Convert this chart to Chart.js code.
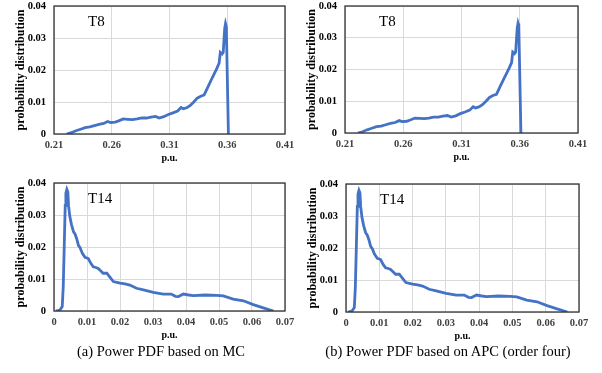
<!DOCTYPE html>
<html>
<head>
<meta charset="utf-8">
<script src="https://cdn.jsdelivr.net/npm/chart.js@4.4.0/dist/chart.umd.min.js"></script>
<style>
  body { margin: 0; background: #fff; }
  #wrap { position: relative; width: 602px; height: 373px; overflow: hidden; }
  #wrap canvas { position: absolute; left: 0; top: 0; }
  .cap { position: absolute; top: 343px; font: 14.5px "Liberation Serif", "Times New Roman", serif; color: #000; white-space: nowrap; transform: translateX(-50%); }
</style>
</head>
<body>
<div id="wrap">
  <canvas id="tl" width="602" height="373"></canvas>
  <canvas id="tr" width="602" height="373"></canvas>
  <canvas id="bl" width="602" height="373"></canvas>
  <canvas id="br" width="602" height="373"></canvas>
  <div class="cap" style="left:161px">(a) Power PDF based on MC</div>
  <div class="cap" style="left:448px">(b) Power PDF based on APC (order four)</div>
</div>
<script>
// T8 power pdf (p.u. / probability)
const t8X = [0.221, 0.225, 0.229, 0.233, 0.237, 0.241, 0.245, 0.249, 0.253, 0.2565, 0.259, 0.263,
  0.266, 0.270, 0.274, 0.278, 0.282, 0.286, 0.290, 0.294, 0.298, 0.301, 0.305, 0.309, 0.313,
  0.317, 0.320, 0.322, 0.325, 0.328, 0.331, 0.334, 0.337, 0.340, 0.343, 0.346, 0.349, 0.351,
  0.353, 0.354, 0.3555, 0.3565, 0.3578, 0.3585, 0.3592, 0.361];
const t8Y = [0, 0.0004, 0.0010, 0.0015, 0.0020, 0.0022, 0.0026, 0.0030, 0.0033, 0.0039, 0.0036, 0.0037,
  0.0041, 0.0047, 0.0046, 0.0045, 0.0047, 0.0050, 0.0050, 0.0053, 0.0055, 0.0050, 0.0054, 0.0061, 0.0066,
  0.0072, 0.0083, 0.0079, 0.0082, 0.0089, 0.0100, 0.0112, 0.0118, 0.0122, 0.0145, 0.0168, 0.0190, 0.0205,
  0.0222, 0.0255, 0.0250, 0.0255, 0.0330, 0.0345, 0.0335, 0];

// T14 power pdf
const t14X = [0.0006, 0.0018, 0.0025, 0.0028, 0.0031, 0.0034, 0.0036, 0.0039, 0.0042, 0.0044, 0.0048,
  0.0053, 0.0059, 0.0064, 0.0069, 0.0074, 0.0079, 0.0086, 0.0094, 0.0104, 0.0112, 0.0119, 0.0127,
  0.0134, 0.0142, 0.0149, 0.016, 0.017, 0.018, 0.020, 0.0215, 0.023, 0.025, 0.0271, 0.0301, 0.0331,
  0.0355, 0.0368, 0.0377, 0.0392, 0.0408, 0.0422, 0.0458, 0.0493, 0.0513, 0.0543, 0.0574, 0.0604,
  0.0634, 0.0665];
const t14Y = [0, 0.0003, 0.0014, 0.0076, 0.0200, 0.0330, 0.0368, 0.0380, 0.0372, 0.0330, 0.0295,
  0.0270, 0.0248, 0.0240, 0.0225, 0.0205, 0.0198, 0.0180, 0.0168, 0.0164, 0.0148, 0.0138, 0.0136,
  0.0133, 0.0125, 0.0118, 0.0118, 0.0105, 0.0092, 0.0087, 0.0085, 0.0081, 0.0071, 0.0066, 0.0058, 0.0053,
  0.0053, 0.0046, 0.0045, 0.0053, 0.0050, 0.0048, 0.0050, 0.0049, 0.0047, 0.0037, 0.0032, 0.0020,
  0.0010, 0];

const t8Ticks = [0.21, 0.26, 0.31, 0.36, 0.41];
const t8TickLabels = ["0.21", "0.26", "0.31", "0.36", "0.41"];
const t14Ticks = [0, 0.01, 0.02, 0.03, 0.04, 0.05, 0.06, 0.07];
const t14TickLabels = ["0", "0.01", "0.02", "0.03", "0.04", "0.05", "0.06", "0.07"];
const yTicks = [0, 0.01, 0.02, 0.03, 0.04];
const yTickLabels = ["0", "0.01", "0.02", "0.03", "0.04"];

const W = 602, H = 373;
const Y_AXIS_W = 54, X_AXIS_H = 36;
const SERIF = '"Liberation Serif", "Times New Roman", serif';

// frame around plot area + the T8 / T14 tag
const framePlugin = {
  id: "frame",
  afterDraw(chart, args, opts) {
    const { ctx, chartArea: a } = chart;
    ctx.save();
    ctx.strokeStyle = "#333";
    ctx.lineWidth = 1.3;
    ctx.strokeRect(a.left, a.top, a.right - a.left, a.bottom - a.top);
    ctx.fillStyle = "#000";
    ctx.font = "15px " + SERIF;
    ctx.textBaseline = "middle";
    ctx.fillText(opts.text, a.left + 34, a.top + 16);
    ctx.restore();
  }
};

function makeChart(id, area, xs, ys, xTicks, xLabels, tag) {
  const pts = xs.map((x, i) => ({ x, y: ys[i] }));
  new Chart(document.getElementById(id), {
    type: "line",
    data: {
      datasets: [{
        data: pts,
        borderColor: "#4472C4",
        borderWidth: 2.8,
        pointRadius: 0,
        tension: 0,
        fill: false
      }]
    },
    options: {
      responsive: false,
      animation: false,
      layout: {
        padding: { left: area.l - Y_AXIS_W, right: W - area.r, top: area.t, bottom: H - area.b - X_AXIS_H }
      },
      plugins: { legend: { display: false }, tooltip: { enabled: false }, frame: { text: tag } },
      scales: {
        x: {
          type: "linear",
          min: xTicks[0],
          max: xTicks[xTicks.length - 1],
          afterBuildTicks: s => { s.ticks = xTicks.map(v => ({ value: v })); },
          afterFit: s => { s.height = X_AXIS_H; s.paddingLeft = 0; s.paddingRight = 0; },
          ticks: {
            callback: (v, i) => xLabels[i],
            font: { family: SERIF, size: 10.5, weight: "bold" },
            color: "#404040",
            padding: 5,
            maxRotation: 0,
            autoSkip: false
          },
          grid: { color: "#d9d9d9", drawTicks: false },
          border: { display: false },
          title: {
            display: true,
            text: "p.u.",
            color: "#000",
            font: { family: SERIF, size: 10, weight: "bold" },
            padding: { top: 0, bottom: 6 }
          }
        },
        y: {
          min: 0,
          max: 0.04,
          afterBuildTicks: s => { s.ticks = yTicks.map(v => ({ value: v })); },
          afterFit: s => { s.width = Y_AXIS_W; s.paddingTop = 0; s.paddingBottom = 0; },
          ticks: {
            callback: (v, i) => yTickLabels[i],
            font: { family: SERIF, size: 10.5, weight: "bold" },
            color: "#000",
            padding: 8
          },
          grid: { color: "#d9d9d9", drawTicks: false },
          border: { display: false },
          title: {
            display: true,
            text: "probability distribution",
            color: "#000",
            font: { family: SERIF, size: 12, weight: "bold" },
            padding: { top: 14, bottom: 0 }
          }
        }
      }
    },
    plugins: [framePlugin]
  });
}

makeChart("tl", { l: 54, r: 285, t: 6, b: 134 }, t8X, t8Y, t8Ticks, t8TickLabels, "T8");
makeChart("tr", { l: 345, r: 578, t: 6, b: 133 }, t8X, t8Y, t8Ticks, t8TickLabels, "T8");
makeChart("bl", { l: 54, r: 285, t: 183, b: 311 }, t14X, t14Y, t14Ticks, t14TickLabels, "T14");
makeChart("br", { l: 346, r: 579, t: 184, b: 312 }, t14X, t14Y, t14Ticks, t14TickLabels, "T14");
</script>
</body>
</html>
